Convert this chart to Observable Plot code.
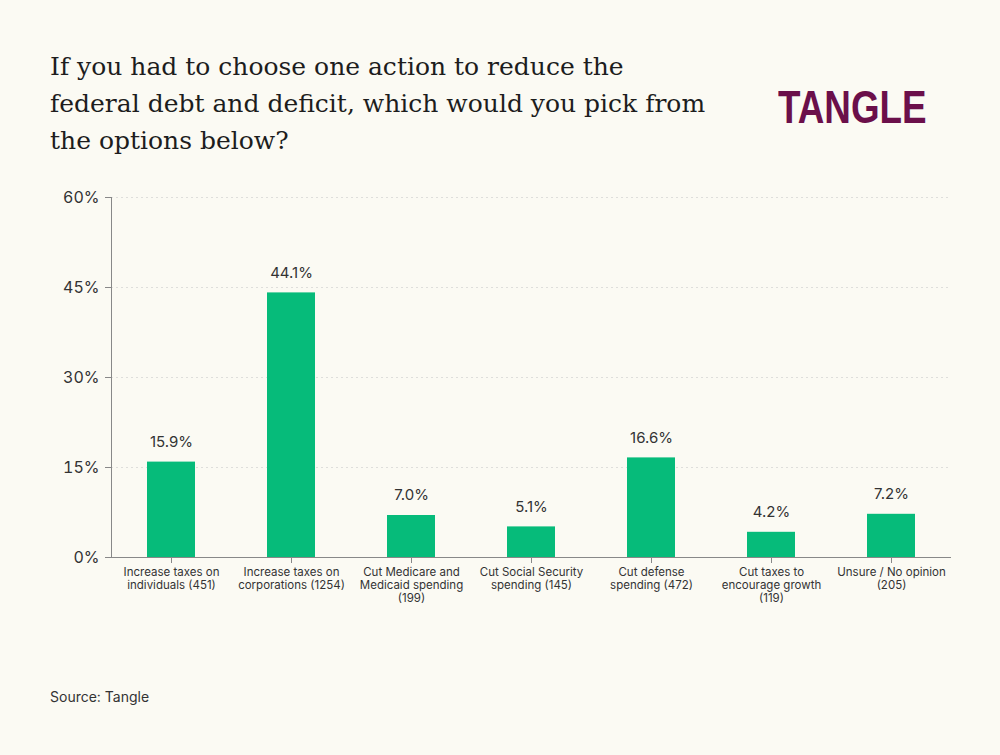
<!DOCTYPE html>
<html><head><meta charset="utf-8">
<script src="https://cdn.jsdelivr.net/npm/d3@7"></script>
<script src="https://cdn.jsdelivr.net/npm/@observablehq/plot@0.6"></script>
<style>
body{margin:0;background:#fbfaf3;font-family:Inter,sans-serif;}
#wrap{position:relative;width:1000px;height:755px;background:#fbfaf3;}
#title{position:absolute;left:50px;top:48px;width:670px;font-family:"DejaVu Serif",serif;font-size:25px;line-height:37px;color:#1d1d1d;}
#logo{position:absolute;left:778px;top:82px;font-family:"Liberation Sans",sans-serif;font-weight:bold;font-size:46px;line-height:50px;letter-spacing:0px;color:#6b0f4a;transform:scaleX(0.8);transform-origin:left;}
#chart{position:absolute;left:0;top:180px;}
#src{position:absolute;left:50px;top:688px;font-size:14px;color:#333;}
</style></head><body>
<div id="wrap">
<div id="title">If you had to choose one action to reduce the federal debt and deficit, which would you pick from the options below?</div>
<div id="logo">TANGLE</div>
<div id="chart"></div>
<div id="src">Source: Tangle</div>
</div>
<script>
const categories = ["Increase taxes on\nindividuals (451)","Increase taxes on\ncorporations (1254)","Cut Medicare and\nMedicaid spending\n(199)","Cut Social Security\nspending (145)","Cut defense\nspending (472)","Cut taxes to\nencourage growth\n(119)","Unsure / No opinion\n(205)"];
const values = [15.9,44.1,7.0,5.1,16.6,4.2,7.2];
const yTicks = [0,15,30,45,60];
const data = categories.map((c,i)=>({c,v:values[i]}));
const chart = Plot.plot({
  width:1000,height:440,marginTop:17,marginBottom:63,marginLeft:111,marginRight:49,
  style:{background:"transparent",fontFamily:"Inter,sans-serif",color:"#333"},
  x:{domain:categories,paddingInner:0.6,paddingOuter:0.3,label:null},
  y:{domain:[0,60],label:null},
  marks:[
    Plot.gridY(yTicks,{stroke:"#ccc",strokeDasharray:"2,3",strokeOpacity:0.6}),
    Plot.barY(data,{x:"c",y:"v",fill:"#06bb7a"}),
    Plot.text(data,{x:"c",y:"v",text:d=>d.v.toFixed(1)+"%",dy:-20,fontSize:15,fill:"#333"}),
    Plot.axisY({ticks:yTicks,tickFormat:d=>d+"%",tickSize:6,fontSize:16,tickPadding:6,stroke:"#888"}),
    Plot.axisX({tickSize:6,fontSize:11.5,tickPadding:4,lineHeight:1.1,lineWidth:20,stroke:"#888"}),
    Plot.ruleY([0],{stroke:"#888"}),
    Plot.frame({anchor:"left",stroke:"#888"})
  ]
});
document.getElementById("chart").appendChild(chart);
</script>
</body></html>
